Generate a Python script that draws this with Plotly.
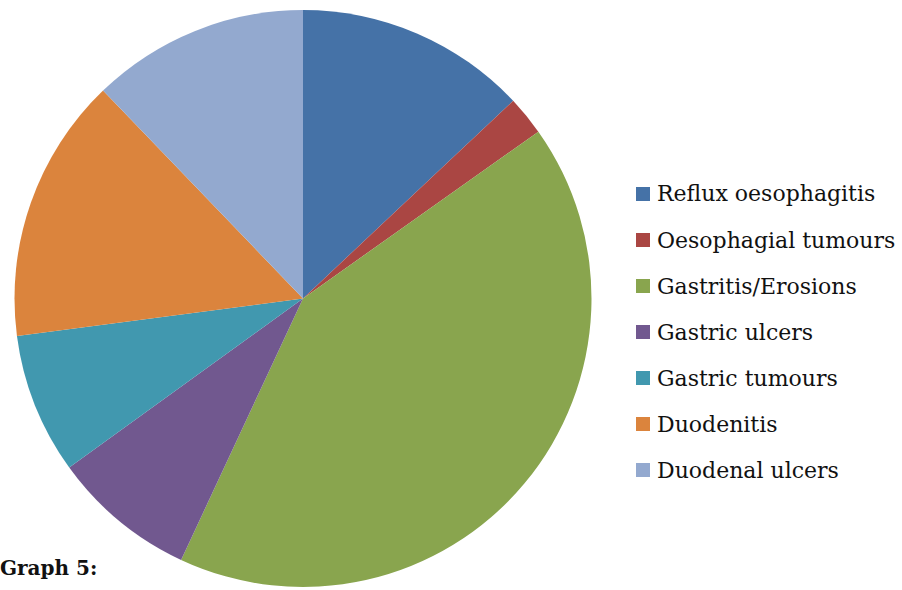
import plotly.graph_objects as go

categories = ["Reflux oesophagitis", "Oesophagial tumours", "Gastritis/Erosions",
              "Gastric ulcers", "Gastric tumours", "Duodenitis", "Duodenal ulcers"]
values = [13.0, 2.2, 41.8, 8.1, 7.9, 14.9, 12.2]
colors = ["#4572A7", "#AA4643", "#89A54E", "#71588F", "#4198AF", "#DB843D", "#93A9CF"]
caption = "Graph 5:"

W, H = 902, 590
fig = go.Figure()
fig.add_trace(go.Pie(
    labels=categories, values=values, sort=False, direction="clockwise", rotation=0,
    marker=dict(colors=colors, line=dict(width=0)), textinfo="none", hoverinfo="label+percent",
    showlegend=False,
    domain=dict(x=[14 / W, 592 / W], y=[1 - 587 / H, 1 - 10 / H]),
))

font_family = "DejaVu Serif"
y0, step = 194, 46
for i, (lab, col) in enumerate(zip(categories, colors)):
    yc = y0 + i * step
    fig.add_shape(type="rect", xref="paper", yref="paper",
                  x0=636 / W, x1=650 / W, y0=1 - (yc + 7) / H, y1=1 - (yc - 7) / H,
                  fillcolor=col, line=dict(width=0))
    fig.add_annotation(text=lab, xref="paper", yref="paper", x=655 / W, y=1 - yc / H,
                       xanchor="left", yanchor="middle", showarrow=False,
                       font=dict(family=font_family, size=22, color="#111111"))

fig.add_annotation(text="<b>" + caption + "</b>", xref="paper", yref="paper", x=-2 / W, y=1 - 568 / H,
                   xanchor="left", yanchor="middle", showarrow=False,
                   font=dict(family=font_family, size=20, color="#111111"))

fig.update_layout(width=W, height=H, margin=dict(l=0, r=0, t=0, b=0),
                  paper_bgcolor="white", plot_bgcolor="white")
fig.write_html("out.html")
